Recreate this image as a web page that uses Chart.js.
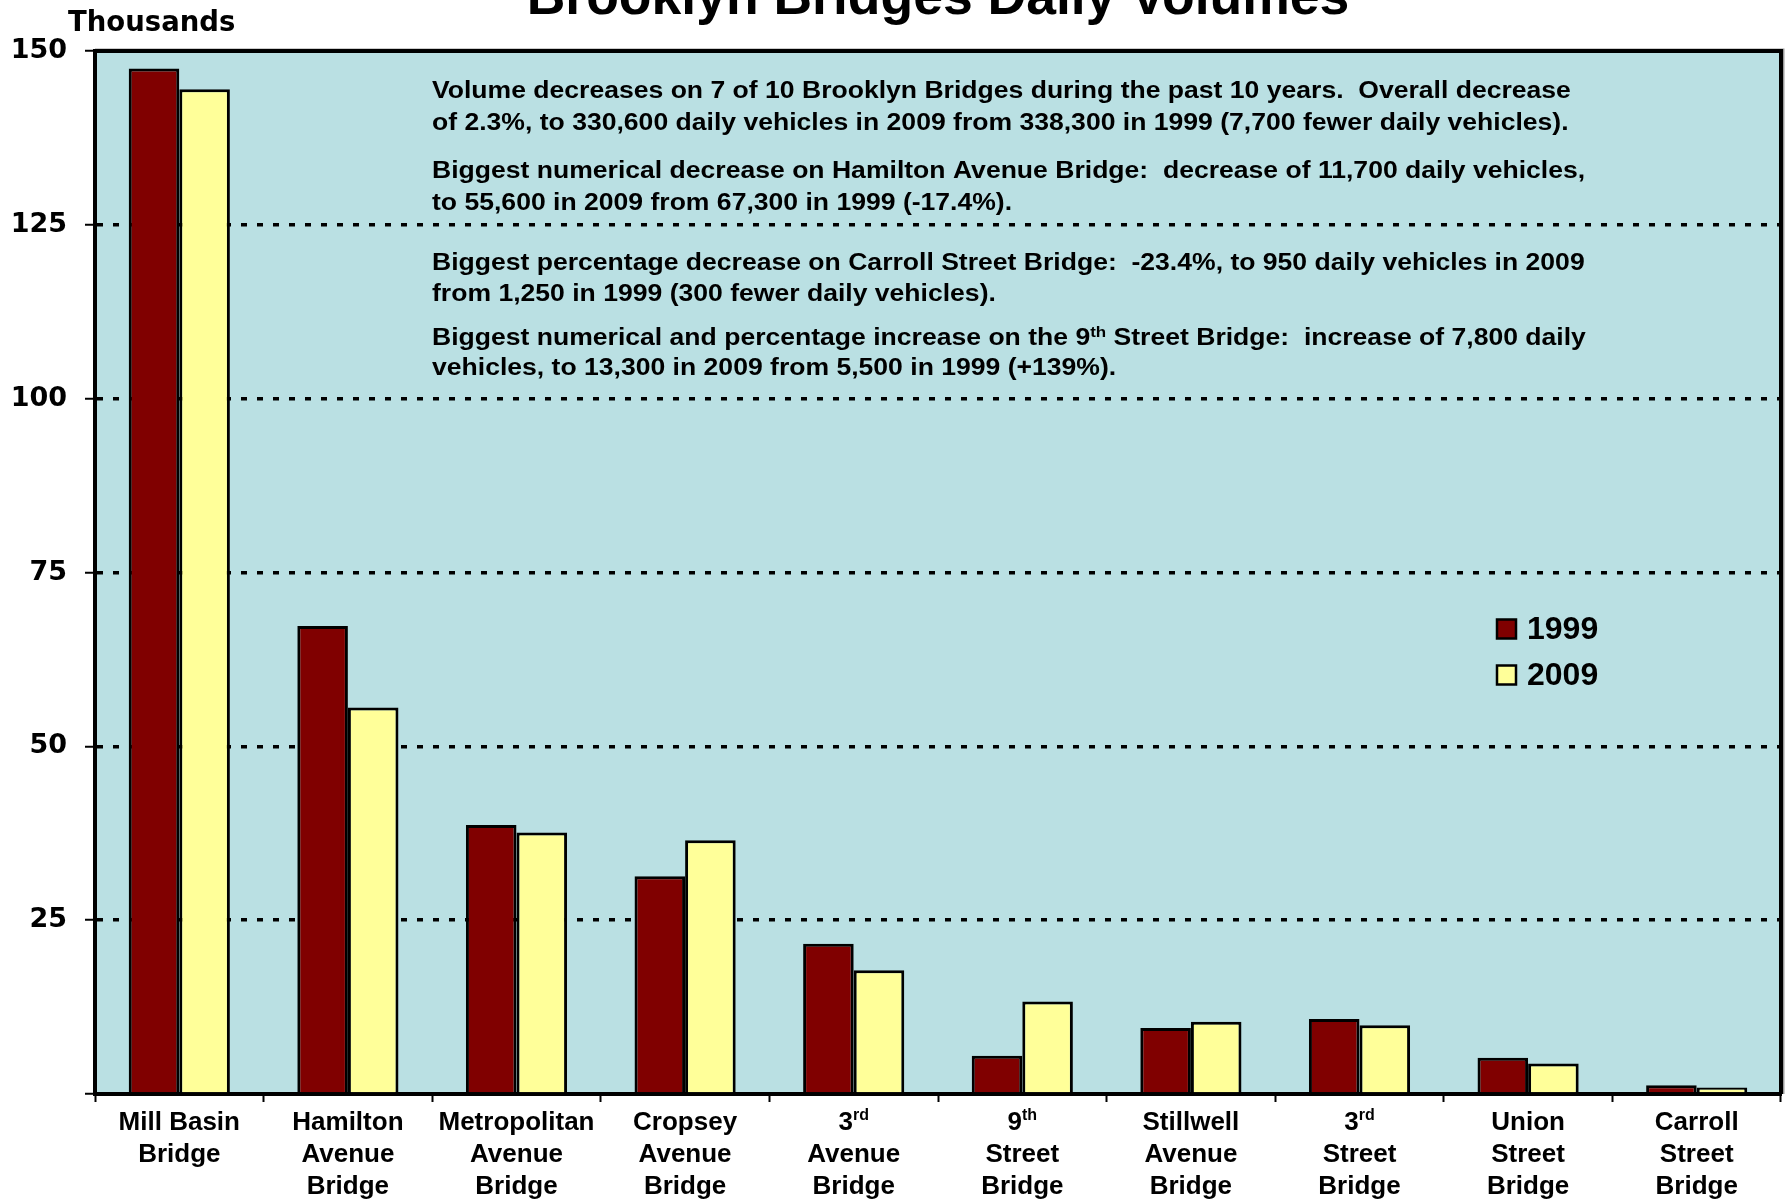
<!DOCTYPE html>
<html>
<head>
<meta charset="utf-8">
<script src="https://cdn.jsdelivr.net/npm/chart.js@4"></script>
<style>
  body { margin: 0; background: #fff; }
  canvas { display: block; }
</style>
</head>
<body>
<canvas id="chart" width="1787" height="1199"></canvas>
<script>
// {xx} marks superscript text
const bridges = [
  ['Mill Basin', 'Bridge'],
  ['Hamilton', 'Avenue', 'Bridge'],
  ['Metropolitan', 'Avenue', 'Bridge'],
  ['Cropsey', 'Avenue', 'Bridge'],
  ['3{rd}', 'Avenue', 'Bridge'],
  ['9{th}', 'Street', 'Bridge'],
  ['Stillwell', 'Avenue', 'Bridge'],
  ['3{rd}', 'Street', 'Bridge'],
  ['Union', 'Street', 'Bridge'],
  ['Carroll', 'Street', 'Bridge']
];
const vol1999 = [147.5, 67.3, 38.7, 31.3, 21.6, 5.5, 9.5, 10.8, 5.2, 1.25];
const vol2009 = [144.5, 55.6, 37.6, 36.5, 17.8, 13.3, 10.4, 9.9, 4.4, 0.95];
const yMax = 150;
const yStep = 25;

const title = 'Brooklyn Bridges Daily Volumes';
const unitLabel = 'Thousands';
const notes = [
  'Volume decreases on 7 of 10 Brooklyn Bridges during the past 10 years.  Overall decrease',
  'of 2.3%, to 330,600 daily vehicles in 2009 from 338,300 in 1999 (7,700 fewer daily vehicles).',
  'Biggest numerical decrease on Hamilton Avenue Bridge:  decrease of 11,700 daily vehicles,',
  'to 55,600 in 2009 from 67,300 in 1999 (-17.4%).',
  'Biggest percentage decrease on Carroll Street Bridge:  -23.4%, to 950 daily vehicles in 2009',
  'from 1,250 in 1999 (300 fewer daily vehicles).',
  'Biggest numerical and percentage increase on the 9{th} Street Bridge:  increase of 7,800 daily',
  'vehicles, to 13,300 in 2009 from 5,500 in 1999 (+139%).'
];
const noteY = [90, 122, 170, 202, 262, 293, 337, 367];

const ARIAL = '"Liberation Sans", Arial, sans-serif';
const WIDE = '"DejaVu Sans", sans-serif';

// draw text with {superscript} parts, optionally stretched sideways
function richText(ctx, str, x, y, size, align, hs) {
  hs = hs || 1;
  const parts = str.split(/(\{[^}]*\})/).filter(p => p.length);
  const segs = parts.map(p => {
    const sup = p[0] === '{';
    const text = sup ? p.slice(1, -1) : p;
    const fs = sup ? Math.round(size * 0.62) : size;
    ctx.font = 'bold ' + fs + 'px ' + ARIAL;
    return { text, sup, fs, w: ctx.measureText(text).width };
  });
  const total = segs.reduce((a, s) => a + s.w, 0) * hs;
  let cx = align === 'center' ? x - total / 2 : x;
  ctx.textAlign = 'left';
  ctx.textBaseline = 'alphabetic';
  const base = y + size * 0.36;
  segs.forEach(s => {
    ctx.font = 'bold ' + s.fs + 'px ' + ARIAL;
    ctx.save();
    ctx.translate(cx, s.sup ? base - size * 0.38 : base);
    ctx.scale(hs, 1);
    ctx.fillText(s.text, 0, 0);
    ctx.restore();
    cx += s.w * hs;
  });
}

const decor = {
  id: 'decor',
  beforeDraw(chart) {
    const { ctx, chartArea: a } = chart;
    ctx.save();
    ctx.fillStyle = '#BAE0E3';
    ctx.fillRect(a.left, a.top, a.right - a.left, a.bottom - a.top);
    ctx.restore();
  },
  afterDraw(chart) {
    const { ctx, chartArea: a } = chart;
    ctx.save();
    // frame: top and right
    ctx.strokeStyle = '#999';
    ctx.lineWidth = 2;
    ctx.beginPath();
    ctx.moveTo(a.left, a.top - 1.5);
    ctx.lineTo(a.right + 2.5, a.top - 1.5);
    ctx.lineTo(a.right + 2.5, a.bottom);
    ctx.stroke();
    ctx.strokeStyle = '#000';
    ctx.lineWidth = 4;
    ctx.beginPath();
    ctx.moveTo(a.left - 2, a.top);
    ctx.lineTo(a.right, a.top);
    ctx.lineTo(a.right, a.bottom);
    ctx.stroke();

    ctx.fillStyle = '#000';
    // title (runs off the top edge)
    ctx.font = 'bold 53.5px ' + ARIAL;
    ctx.textAlign = 'center';
    ctx.textBaseline = 'alphabetic';
    ctx.fillText(title, (a.left + a.right) / 2, 14);
    // unit label
    ctx.font = 'bold 27.5px ' + WIDE;
    ctx.textAlign = 'left';
    ctx.fillText(unitLabel, 68, 31);

    // notes
    notes.forEach((t, i) => richText(ctx, t, 432, noteY[i], 23.5, 'left', 1.13));

    // x labels
    const xs = chart.scales.x;
    chart.data.labels.forEach((lines, i) => {
      const cx = xs.getPixelForValue(i);
      lines.forEach((ln, j) => richText(ctx, ln, cx, 1121 + j * 32, 26, 'center'));
    });

    // legend
    chart.data.datasets.forEach((ds, i) => {
      const y = 629 + i * 46;
      ctx.fillStyle = ds.backgroundColor;
      ctx.fillRect(1497, y - 9.5, 19, 19);
      ctx.strokeStyle = '#000';
      ctx.lineWidth = 2.5;
      ctx.strokeRect(1497, y - 9.5, 19, 19);
      ctx.fillStyle = '#000';
      ctx.font = 'bold 32px ' + ARIAL;
      ctx.textAlign = 'left';
      ctx.textBaseline = 'middle';
      ctx.fillText(ds.label, 1527, y + 1);
    });
    ctx.restore();
  }
};

new Chart(document.getElementById('chart'), {
  type: 'bar',
  data: {
    labels: bridges,
    datasets: [
      {
        label: '1999',
        data: vol1999,
        backgroundColor: '#800000',
        borderColor: '#000',
        borderWidth: 3
      },
      {
        label: '2009',
        data: vol2009,
        backgroundColor: '#FFFF99',
        borderColor: '#000',
        borderWidth: 3
      }
    ]
  },
  options: {
    responsive: false,
    animation: false,
    events: [],
    layout: { padding: { top: 51, right: 6, left: 0, bottom: 0 } },
    datasets: { bar: { categoryPercentage: 0.6, barPercentage: 1.0 } },
    plugins: {
      legend: { display: false },
      title: { display: false },
      tooltip: { enabled: false }
    },
    scales: {
      x: {
        ticks: { display: false },
        grid: {
          offset: true,
          drawOnChartArea: false,
          tickLength: 8,
          tickColor: '#000',
          tickWidth: 2
        },
        border: { color: '#000', width: 4 },
        afterFit(s) { s.height = 105; s.paddingLeft = 0; s.paddingRight = 0; }
      },
      y: {
        min: 0,
        max: yMax,
        ticks: {
          stepSize: yStep,
          color: '#000',
          padding: 18,
          font: { family: WIDE, weight: 'bold', size: 27 },
          callback: v => (v === 0 ? '' : v)
        },
        grid: {
          color: c => (c.tick && (c.tick.value === 0 || c.tick.value === yMax)) ? 'rgba(0,0,0,0)' : '#000',
          lineWidth: 3.5,
          tickLength: 10,
          tickColor: '#000',
          tickWidth: 2,
          tickBorderDash: []
        },
        border: { color: '#000', width: 4, dash: [6, 10] },
        afterFit(s) { s.width = 95; s.paddingTop = 0; s.paddingBottom = 0; }
      }
    }
  },
  plugins: [decor]
});
</script>
</body>
</html>
